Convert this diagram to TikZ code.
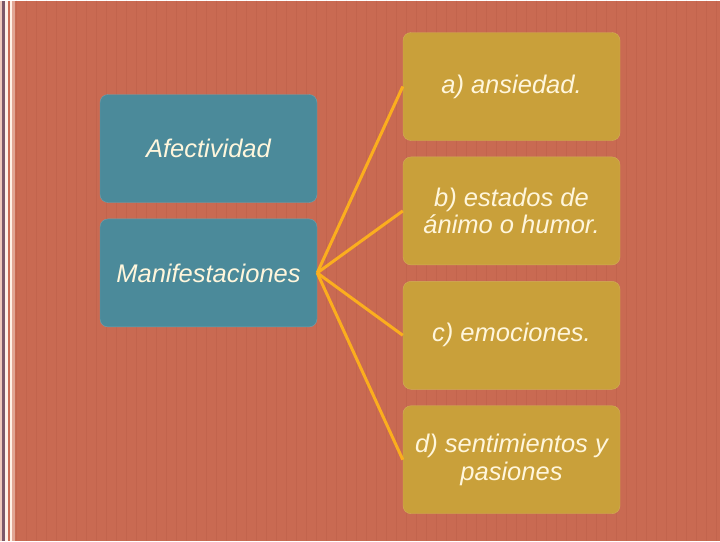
\documentclass[tikz,border=0pt]{standalone}
\usepackage{fontspec}
\setmainfont{Liberation Sans}
\usepackage{xcolor}
\usetikzlibrary{positioning}

\definecolor{slidebg}{HTML}{C96A52}
\definecolor{stripe}{HTML}{C2644D}
\definecolor{teal}{HTML}{4B8A9A}
\definecolor{gold}{HTML}{C9A03A}
\definecolor{cream}{HTML}{FFF6DC}
\definecolor{linkcol}{HTML}{FBAE1E}
\definecolor{bandpurple}{HTML}{7D5868}
\definecolor{bandlight}{HTML}{FFF0E6}

\begin{document}
\begin{tikzpicture}[
  x=1pt, y=-1pt,
  topic/.style={fill=teal, draw=teal!80!white, rounded corners=8pt, minimum width=217pt, minimum height=108pt,
    inner sep=2pt, text=cream, font=\fontsize{25.5}{28}\selectfont\itshape},
  item/.style={fill=gold, draw=gold!85!white, rounded corners=8pt, minimum width=217pt, minimum height=108pt,
    inner sep=2pt, align=center, text=cream, font=\fontsize{25.5}{27.5}\selectfont\itshape},
  link/.style={draw=linkcol, line width=3pt}
]
  % background and left band
  \fill[slidebg] (0,0) rectangle (720,540);
  \foreach \x in {16,26,...,716} {
    \draw[stripe, line width=1pt] (\x,0) -- (\x,540);
  }
  \fill[bandlight!70!slidebg] (0,0) rectangle (2,540);
  \fill[bandpurple] (2,0) rectangle (5,540);
  \fill[bandlight] (5,0) rectangle (8,540);
  \fill[bandlight] (10,0) rectangle (12,540);
  \fill[bandlight!45!slidebg] (12,0) rectangle (15,540);
  \useasboundingbox (0,0) rectangle (720,540);

  % left column
  \node[topic] (afect) at (208.5,148) {Afectividad};
  \node[topic, below=16pt of afect] (manif) {Manifestaciones};

  % right column
  \node[item] (ans) at (511.5,86) {a) ansiedad.};
  \node[item, below=16pt of ans] (animo) {b) estados de\\ ánimo o humor.};
  \node[item, below=16pt of animo] (emoc) {c) emociones.};
  \node[item, below=16pt of emoc] (sent) {d) sentimientos y\\ pasiones};

  % connectors
  \draw[link] (manif.east) -- (ans.west);
  \draw[link] (manif.east) -- (animo.west);
  \draw[link] (manif.east) -- (emoc.west);
  \draw[link] (manif.east) -- (sent.west);

\end{tikzpicture}
\end{document}
